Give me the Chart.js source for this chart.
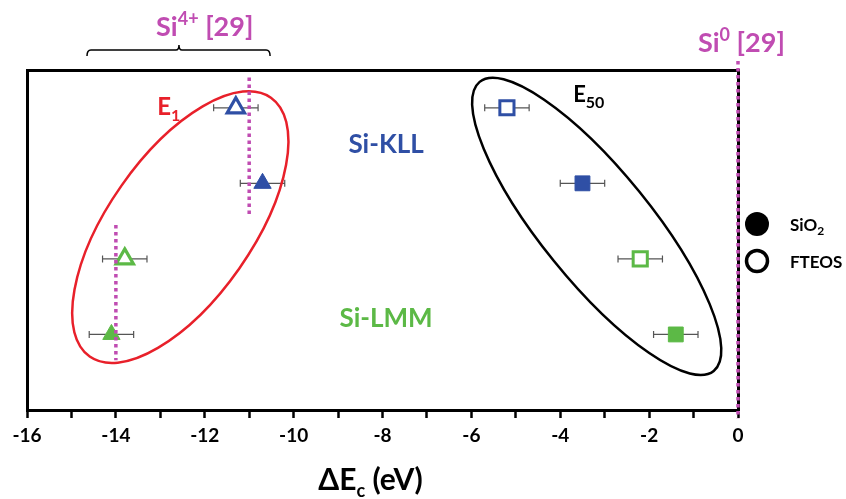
<!DOCTYPE html>
<html>
<head>
<meta charset="utf-8">
<script src="https://cdn.jsdelivr.net/npm/chart.js@4.4.0/dist/chart.umd.min.js"></script>
<style>
  html, body { margin: 0; padding: 0; background: #fff; }
</style>
</head>
<body>
<canvas id="shift-chart" width="846" height="499"></canvas>
<script>
// core level shift of the Auger lines, relative to Si0 (eV)
var rowLevel = [4, 3, 2, 1];
var rowLine  = ['Si-KLL', 'Si-KLL', 'Si-LMM', 'Si-LMM'];
var rowFilm  = ['FTEOS', 'SiO2', 'FTEOS', 'SiO2'];
var e1Shift  = [-11.3, -10.7, -13.8, -14.1];
var e50Shift = [-5.2, -3.5, -2.2, -1.4];
var shiftErr = [0.5, 0.5, 0.5, 0.5];

// reference positions [29]
var si4Ref       = [-11, -14];
var si4RefTop    = [4.4, 2.45];
var si4RefBottom = [2.58, 0.66];
var si0Ref       = 0;

var xMin = -16, xMax = 0;

var BLUE = '#2f4fa5';
var GREEN = '#5cb946';
var MAGENTA = '#c04cb2';
var FONT = 'Lato';

function lineColor(l) { return l === 'Si-KLL' ? BLUE : GREEN; }

var datasets = [];
rowLevel.forEach(function (lvl, i) {
  var c = lineColor(rowLine[i]);
  var open = rowFilm[i] === 'FTEOS';
  datasets.push({
    label: 'E1 ' + rowLine[i] + ' ' + rowFilm[i],
    data: [{ x: e1Shift[i], y: lvl }],
    err: [shiftErr[i]],
    pointStyle: 'triangle',
    pointRadius: 10,
    backgroundColor: open ? '#fff' : c,
    borderColor: c,
    borderWidth: open ? 3.2 : 1,
    order: 1
  });
  datasets.push({
    label: 'E50 ' + rowLine[i] + ' ' + rowFilm[i],
    data: [{ x: e50Shift[i], y: lvl }],
    err: [shiftErr[i]],
    pointStyle: 'rect',
    pointRadius: open ? 10 : 10.5,
    backgroundColor: open ? '#fff' : c,
    borderColor: c,
    borderWidth: open ? 3 : 1,
    order: 1
  });
});

si4Ref.forEach(function (x, i) {
  datasets.push({
    type: 'line',
    label: 'Si4+ ref',
    data: [{ x: x, y: si4RefTop[i] }, { x: x, y: si4RefBottom[i] }],
    borderColor: MAGENTA,
    borderWidth: 3.5,
    borderDash: [3.5, 3.5],
    pointRadius: 0,
    order: 0
  });
});
datasets.push({
  type: 'line',
  label: 'Si0 ref',
  data: [{ x: si0Ref, y: 4.62 }, { x: si0Ref, y: -0.11 }],
  borderColor: MAGENTA,
  borderWidth: 3.5,
  borderDash: [3.5, 3.5],
  pointRadius: 0,
  clip: false,
  order: 0
});

function richText(ctx, parts, x, y, color, align) {
  var w = 0;
  parts.forEach(function (p) {
    ctx.font = 'bold ' + p[1] + 'px ' + FONT;
    w += ctx.measureText(p[0]).width;
  });
  var cx = align === 'center' ? x - w / 2 : x;
  ctx.fillStyle = color;
  ctx.textBaseline = 'alphabetic';
  ctx.textAlign = 'left';
  parts.forEach(function (p) {
    ctx.font = 'bold ' + p[1] + 'px ' + FONT;
    ctx.fillText(p[0], cx, y + (p[2] || 0));
    cx += ctx.measureText(p[0]).width;
  });
}

var decorations = {
  id: 'decorations',
  beforeDatasetsDraw: function (chart) {
    var ctx = chart.ctx, xs = chart.scales.x, ys = chart.scales.y;
    ctx.save();
    // error bars
    ctx.strokeStyle = '#555';
    ctx.lineWidth = 1.2;
    chart.data.datasets.forEach(function (ds) {
      if (!ds.err) return;
      ds.data.forEach(function (p, k) {
        var y = ys.getPixelForValue(p.y);
        var x0 = xs.getPixelForValue(p.x - ds.err[k]);
        var x1 = xs.getPixelForValue(p.x + ds.err[k]);
        ctx.beginPath();
        ctx.moveTo(x0, y); ctx.lineTo(x1, y);
        ctx.moveTo(x0, y - 3.5); ctx.lineTo(x0, y + 3.5);
        ctx.moveTo(x1, y - 3.5); ctx.lineTo(x1, y + 3.5);
        ctx.stroke();
      });
    });
    // grouping ellipses
    [
      { x: -12.55, y: 2.42, rx: 158, ry: 72, rot: -55, color: '#e8202a' },
      { x: -3.18, y: 2.43, rx: 186, ry: 55, rot: 51, color: '#000' }
    ].forEach(function (e) {
      ctx.beginPath();
      ctx.ellipse(xs.getPixelForValue(e.x), ys.getPixelForValue(e.y), e.rx, e.ry,
        e.rot * Math.PI / 180, 0, Math.PI * 2);
      ctx.strokeStyle = e.color;
      ctx.lineWidth = 2.5;
      ctx.stroke();
    });
    ctx.restore();
  },
  afterDraw: function (chart) {
    var ctx = chart.ctx, xs = chart.scales.x, ys = chart.scales.y;
    var area = chart.chartArea;
    ctx.save();
    richText(ctx, [['Si-KLL', 26]], xs.getPixelForValue(-7.92), ys.getPixelForValue(3.4), BLUE, 'center');
    richText(ctx, [['Si-LMM', 26]], xs.getPixelForValue(-7.92), ys.getPixelForValue(1.1), GREEN, 'center');
    richText(ctx, [['E', 24], ['1', 16, 6]], xs.getPixelForValue(-13.07), ys.getPixelForValue(3.9), '#e8202a', 'left');
    richText(ctx, [['E', 22], ['50', 16, 6]], xs.getPixelForValue(-3.71), ys.getPixelForValue(4.07), '#000', 'left');

    // labels above the frame
    richText(ctx, [['Si', 27], ['4+', 18, -11], [' [29]', 27]], xs.getPixelForValue(-12), area.top - 34, MAGENTA, 'center');
    richText(ctx, [['Si', 27], ['0', 18, -11], [' [29]', 27]], xs.getPixelForValue(-0.9), area.top - 18, MAGENTA, 'left');

    // brace over the Si4+ range
    var bx0 = xs.getPixelForValue(-14.65), bx1 = xs.getPixelForValue(-10.53);
    var bm = xs.getPixelForValue(-12.58), by = area.top - 20;
    ctx.strokeStyle = '#000';
    ctx.lineWidth = 1.5;
    ctx.beginPath();
    ctx.moveTo(bx0, by + 6);
    ctx.quadraticCurveTo(bx0, by, bx0 + 4, by);
    ctx.lineTo(bm - 3, by);
    ctx.quadraticCurveTo(bm, by, bm, by - 5);
    ctx.quadraticCurveTo(bm, by, bm + 3, by);
    ctx.lineTo(bx1 - 4, by);
    ctx.quadraticCurveTo(bx1, by, bx1, by + 6);
    ctx.stroke();

    // x title with subscript
    richText(ctx, [['ΔE', 30], ['c', 18, 7], [' (eV)', 30]], (area.left + area.right) / 2 - 12, 490, '#000', 'center');

    // legend: filled = SiO2, open = FTEOS
    var lx = area.right + 19;
    ctx.fillStyle = '#000';
    ctx.beginPath(); ctx.arc(lx, 224, 12, 0, Math.PI * 2); ctx.fill();
    ctx.lineWidth = 3.5;
    ctx.strokeStyle = '#000';
    ctx.beginPath(); ctx.arc(lx, 261, 10.5, 0, Math.PI * 2); ctx.stroke();
    richText(ctx, [['SiO', 17], ['2', 12, 4]], lx + 33, 231, '#000', 'left');
    richText(ctx, [['FTEOS', 17]], lx + 33, 268, '#000', 'left');
    ctx.restore();
  }
};

var noAxis = { display: false };

new Chart(document.getElementById('shift-chart').getContext('2d'), {
  type: 'scatter',
  data: { datasets: datasets },
  options: {
    responsive: false,
    animation: false,
    devicePixelRatio: 1,
    layout: { padding: 0 },
    plugins: { legend: { display: false }, tooltip: { enabled: false } },
    scales: {
      x: {
        type: 'linear', position: 'bottom', min: xMin, max: xMax,
        afterFit: function (s) { s.height = 89; },
        border: { color: '#000', width: 3 },
        grid: { drawOnChartArea: false, color: '#000', tickLength: 8, tickWidth: 2.5 },
        ticks: {
          stepSize: 1, autoSkip: false, maxRotation: 0, padding: 6, color: '#000',
          font: { family: FONT, size: 19, weight: 'bold' },
          callback: function (v) { return v % 2 === 0 ? v : ''; }
        }
      },
      x2: {
        type: 'linear', position: 'top', min: xMin, max: xMax,
        afterFit: function (s) { s.height = 70; },
        border: { color: '#000', width: 3 },
        grid: noAxis, ticks: noAxis
      },
      y: {
        type: 'linear', position: 'left', min: 0, max: 4.5,
        afterFit: function (s) { s.width = 27; },
        border: { color: '#000', width: 3 },
        grid: noAxis, ticks: noAxis
      },
      y2: {
        type: 'linear', position: 'right', min: 0, max: 4.5,
        afterFit: function (s) { s.width = 108; },
        border: { color: '#000', width: 3 },
        grid: noAxis, ticks: noAxis
      }
    }
  },
  plugins: [decorations]
});
</script>
</body>
</html>
